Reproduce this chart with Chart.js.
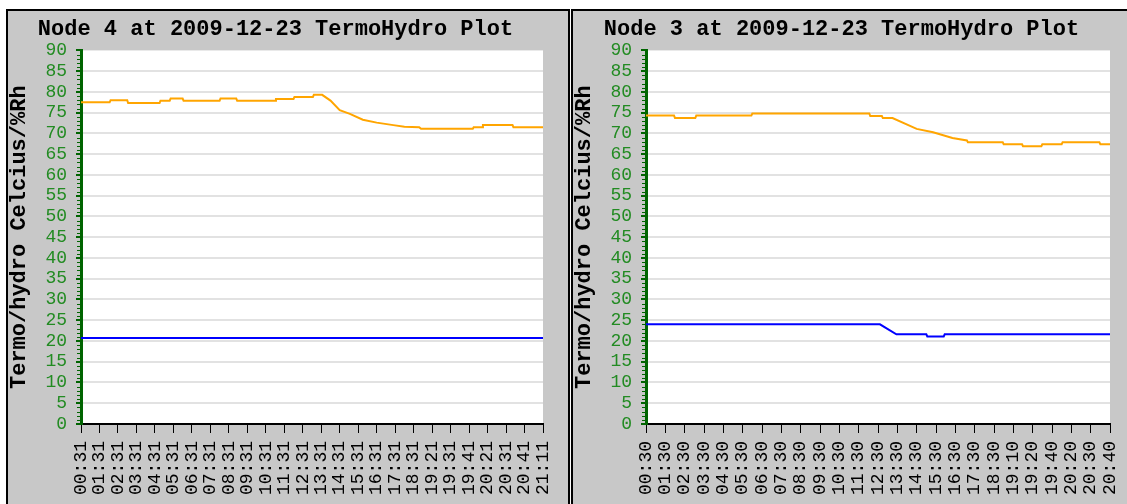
<!DOCTYPE html>
<html>
<head>
<meta charset="utf-8">
<script src="https://cdn.jsdelivr.net/npm/chart.js@4.4.1/dist/chart.umd.min.js"></script>
<style>
  html, body { margin: 0; padding: 0; background: #fff; overflow: hidden; width: 1127px; height: 504px; }
  .panel { position: absolute; top: 9px; width: 560px; height: 500px; border: 2px solid #000; background: #c8c8c8; }
  #p4 { left: 6px; }
  #p3 { left: 571px; }
  canvas { display: block; }
</style>
</head>
<body>
<div class="panel" id="p4"><canvas id="node4" width="560" height="500"></canvas></div>
<div class="panel" id="p3"><canvas id="node3" width="560" height="500"></canvas></div>
<script>
// tick labels (time of day)
var node4Labels = ["00:31","01:31","02:31","03:31","04:31","05:31","06:31","07:31","08:31","09:31",
  "10:31","11:31","12:31","13:31","14:31","15:31","16:31","17:31","18:31","19:21","19:31","19:41",
  "20:21","20:31","20:41","21:11"];
var node3Labels = ["00:30","01:30","02:30","03:30","04:30","05:30","06:30","07:30","08:30","09:30",
  "10:30","11:30","12:30","13:30","14:30","15:30","16:30","17:30","18:30","19:10","19:20","19:40",
  "20:20","20:30","20:40"];

// node 4 - humidity (%Rh), x = position on the time axis
var node4HumX = [0, 1.55, 1.6, 2.5, 2.55, 4.25, 4.3, 4.8, 4.85, 5.5, 5.55, 7.5, 7.55, 8.4, 8.45, 10.5, 10.55,
  11.5, 11.55, 12.55, 12.6, 13.05, 13.5, 14.0, 14.55, 15.25, 16.0, 16.9, 17.5, 18.3, 18.4, 21.2, 21.25,
  21.7, 21.75, 23.35, 23.4, 25];
var node4HumY = [77.5, 77.5, 78.0, 78.0, 77.3, 77.3, 77.9, 77.9, 78.4, 78.4, 77.9, 77.9, 78.4, 78.4, 77.9, 77.9, 78.3,
  78.3, 78.8, 78.8, 79.3, 79.3, 77.9, 75.6, 74.7, 73.3, 72.6, 72.0, 71.6, 71.5, 71.1, 71.1, 71.5,
  71.5, 72.0, 72.0, 71.5, 71.5];
// node 4 - temperature (Celcius)
var node4TempX = [0, 25];
var node4TempY = [20.7, 20.7];

// node 3 - humidity
var node3HumX = [0, 1.45, 1.5, 2.55, 2.6, 5.45, 5.5, 11.55, 11.6, 12.2, 12.25, 12.75, 14.0, 14.85, 15.85,
  16.6, 16.65, 18.45, 18.5, 19.45, 19.5, 20.45, 20.5, 21.5, 21.55, 23.45, 23.5, 24];
var node3HumY = [74.3, 74.3, 73.7, 73.7, 74.3, 74.3, 74.8, 74.8, 74.2, 74.2, 73.7, 73.7, 71.1, 70.3, 68.9,
  68.3, 67.9, 67.9, 67.4, 67.4, 66.9, 66.9, 67.4, 67.4, 67.9, 67.9, 67.4, 67.4];
// node 3 - temperature
var node3TempX = [0, 12.1, 12.95, 14.5, 14.55, 15.4, 15.45, 24];
var node3TempY = [24.0, 24.0, 21.6, 21.6, 21.1, 21.1, 21.6, 21.6];

var GREEN_TXT = "#228b22";
var GREEN_AXIS = "#006400";
var MONO = "'Liberation Mono', 'DejaVu Sans Mono', monospace";

function pts(xs, ys) {
  return xs.map(function (x, i) { return { x: x, y: ys[i] }; });
}

// white plot background + small ruler ticks on the y axis
var plotDeco = {
  id: "plotDeco",
  beforeDraw: function (chart) {
    var a = chart.chartArea, c = chart.ctx;
    c.save();
    c.fillStyle = "#fff";
    c.fillRect(a.left, a.top, a.right - a.left, a.bottom - a.top);
    c.restore();
  },
  afterDraw: function (chart) {
    var y = chart.scales.y, c = chart.ctx, l = chart.chartArea.left;
    c.save();
    c.strokeStyle = GREEN_AXIS;
    c.lineWidth = 1;
    for (var v = y.min; v <= y.max; v++) {
      if (v % 5 === 0) continue;
      var py = Math.round(y.getPixelForValue(v)) + 0.5;
      c.beginPath();
      c.moveTo(l - 4, py);
      c.lineTo(l, py);
      c.stroke();
    }
    c.restore();
  }
};

function makeChart(id, title, labels, humX, humY, tempX, tempY, padRight) {
  return new Chart(id, {
    type: "line",
    data: {
      datasets: [
        { data: pts(humX, humY), borderColor: "#ffa500", borderWidth: 2, pointRadius: 0, tension: 0 },
        { data: pts(tempX, tempY), borderColor: "#0000ff", borderWidth: 2, pointRadius: 0, tension: 0 }
      ]
    },
    options: {
      responsive: false,
      animation: false,
      devicePixelRatio: 1,
      layout: { padding: { left: 0, right: padRight, top: 0, bottom: 0 } },
      plugins: {
        legend: { display: false },
        tooltip: { enabled: false },
        title: {
          display: true,
          text: title,
          color: "#000",
          font: { family: MONO, size: 22, weight: "bold", lineHeight: 1.2 },
          padding: { top: 5, bottom: 8 }
        }
      },
      scales: {
        x: {
          type: "linear",
          min: 0,
          max: labels.length - 1,
          afterFit: function (s) { s.height = 87; s.paddingRight = 0; s.paddingLeft = 0; },
          border: { color: "#000", width: 2 },
          grid: { drawOnChartArea: false, color: "#000", tickLength: 9 },
          ticks: {
            stepSize: 1,
            autoSkip: false,
            maxRotation: 90,
            minRotation: 90,
            padding: 8,
            color: "#000",
            font: { family: MONO, size: 18 },
            callback: function (v) { return labels[v]; }
          }
        },
        y: {
          min: 0,
          max: 90,
          afterFit: function (s) { s.width = 73; },
          border: { color: GREEN_AXIS, width: 3 },
          grid: {
            tickLength: 5,
            lineWidth: 2,
            color: function (ctx) {
              var v = ctx.tick ? ctx.tick.value : 0;
              return (v % 5 === 0 && v > 0 && v < 90) ? "#e2e2e2" : "rgba(0,0,0,0)";
            },
            tickColor: function (ctx) {
              var v = ctx.tick ? ctx.tick.value : 0;
              return v % 5 === 0 ? GREEN_AXIS : "rgba(0,0,0,0)";
            }
          },
          ticks: {
            stepSize: 1,
            autoSkip: false,
            padding: 9,
            color: GREEN_TXT,
            font: { family: MONO, size: 18 },
            callback: function (v) { return v % 5 === 0 ? v : ""; }
          },
          title: {
            display: true,
            text: "Termo/hydro Celcius/%Rh",
            color: "#000",
            font: { family: MONO, size: 22, weight: "bold", lineHeight: 1 },
            padding: 0
          }
        }
      }
    },
    plugins: [plotDeco]
  });
}

makeChart("node4", "Node 4 at 2009-12-23 TermoHydro Plot", node4Labels, node4HumX, node4HumY, node4TempX, node4TempY, 25);
makeChart("node3", "Node 3 at 2009-12-23 TermoHydro Plot", node3Labels, node3HumX, node3HumY, node3TempX, node3TempY, 23);
</script>
</body>
</html>
